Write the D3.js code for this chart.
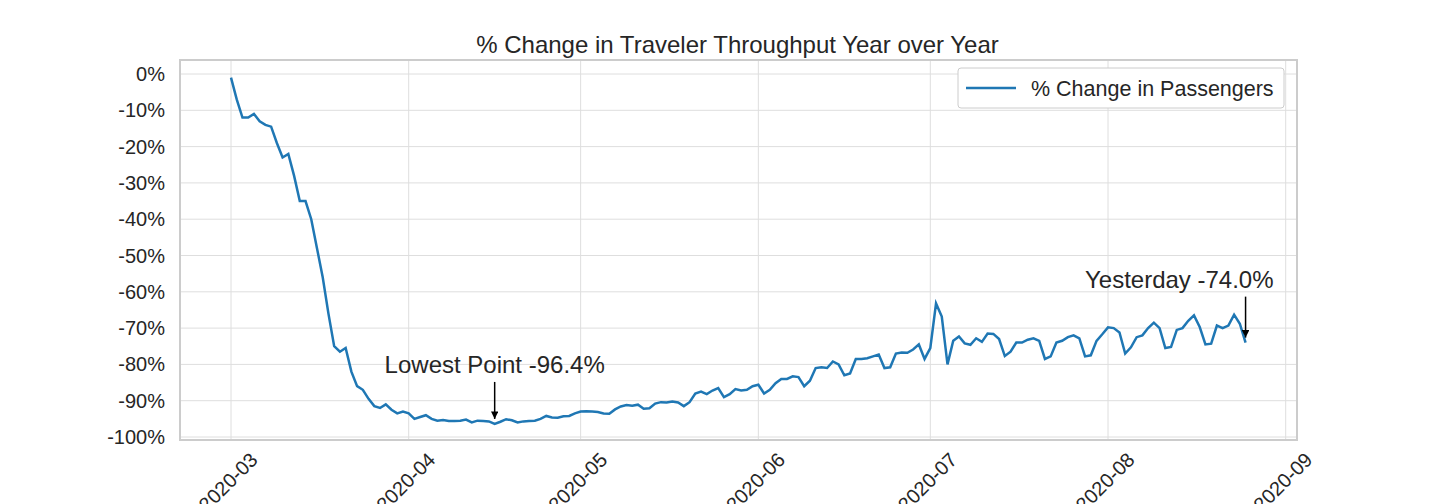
<!DOCTYPE html>
<html>
<head>
<meta charset="utf-8">
<script src="https://cdn.jsdelivr.net/npm/d3@7"></script>
<style>
  body { margin: 0; background: #fff; }
  text { font-family: "Liberation Sans", Arial, sans-serif; fill: #262626; }
</style>
</head>
<body>
<div id="chart-area"></div>
<script>
const startDate = "2020-03-01";
const pctChange = [
  // Mar
  -1, -7, -12, -12, -11, -13, -14, -14.5, -19, -23, -22, -28, -35, -35, -40, -48, -56, -66, -75, -76.5,
  -75.5, -82, -86, -87, -89.5, -91.5, -92, -91, -92.5, -93.5, -93,
  // Apr
  -93.5, -95, -94.5, -94, -95, -95.5, -95.3, -95.6, -95.6, -95.5, -95.2, -96, -95.5, -95.6, -95.7,
  -96.4, -95.8, -95.1, -95.4, -96, -95.7, -95.6, -95.5, -95, -94.2, -94.6, -94.7, -94.3, -94.2, -93.5,
  // May
  -93, -92.9, -93, -93.1, -93.5, -93.6, -92.4, -91.6, -91.2, -91.4, -91.1, -92.2, -92.1, -90.8, -90.4,
  -90.5, -90.2, -90.5, -91.5, -90.4, -88, -87.5, -88.2, -87.2, -86.5, -89, -88.2, -86.8, -87.2, -87, -86,
  // Jun
  -85.6, -88, -87, -85.2, -84, -84, -83.3, -83.5, -86, -84.5, -81, -80.8, -81, -79.2, -80,
  -83, -82.5, -78.5, -78.5, -78.3, -77.8, -77.3, -81, -80.8, -77, -76.7, -76.8, -75.9, -74.5, -78.5,
  // Jul
  -75.5, -63.2, -66.8, -80, -73.5, -72.3, -74.2, -74.6, -72.8, -73.8, -71.5, -71.6, -73, -77.7, -76.5,
  -74, -74, -73.2, -72.8, -73.5, -78.5, -77.8, -74, -73.5, -72.5, -72, -72.8, -77.8, -77.5, -73.5, -71.7,
  // Aug
  -69.8, -70, -71.2, -77, -75.3, -72.5, -72, -70, -68.5, -70, -75.5, -75.2, -70.5, -70, -68,
  -66.5, -69.7, -74.5, -74.3, -69.3, -70, -69.3, -66.3, -68.8, -74.0
];
const yTicks = [0, -10, -20, -30, -40, -50, -60, -70, -80, -90, -100];
const xTicks = ["2020-03-01", "2020-04-01", "2020-05-01", "2020-06-01", "2020-07-01", "2020-08-01", "2020-09-01"];

const parse = d3.timeParse("%Y-%m-%d");
const t0 = parse(startDate);
const data = pctChange.map((v, i) => ({ date: d3.timeDay.offset(t0, i), value: v }));

const W = 1440, H = 504;
const box = { left: 180, right: 1297, top: 60, bottom: 440 };

const svg = d3.select("#chart-area").append("svg").attr("width", W).attr("height", H);

const x = d3.scaleTime()
  .domain([parse("2020-03-01"), parse("2020-08-01")])
  .range([231, 1108]);
const y = d3.scaleLinear().domain([0, -100]).range([74, 437]);

// grid
svg.append("g").selectAll("line").data(yTicks).enter().append("line")
  .attr("x1", box.left).attr("x2", box.right)
  .attr("y1", d => y(d)).attr("y2", d => y(d))
  .attr("stroke", "#dedede").attr("stroke-width", 1);
svg.append("g").selectAll("line").data(xTicks).enter().append("line")
  .attr("x1", d => x(parse(d))).attr("x2", d => x(parse(d)))
  .attr("y1", box.top).attr("y2", box.bottom)
  .attr("stroke", "#dedede").attr("stroke-width", 1);

// y labels
svg.append("g").selectAll("text").data(yTicks).enter().append("text")
  .attr("x", box.left - 15).attr("y", d => y(d)).attr("dy", "0.35em")
  .attr("text-anchor", "end").attr("font-size", 20)
  .text(d => d + "%");

// x labels (rotated)
svg.append("g").selectAll("text").data(xTicks).enter().append("text")
  .attr("text-anchor", "middle").attr("font-size", 20)
  .attr("transform", d => `translate(${x(parse(d)) + 2},${box.bottom + 47}) rotate(-45)`)
  .text(d => d.slice(0, 7));

// line
svg.append("path").datum(data)
  .attr("fill", "none").attr("stroke", "#1f77b4").attr("stroke-width", 2.5)
  .attr("d", d3.line().x(d => x(d.date)).y(d => y(d.value)));

// frame
svg.append("rect")
  .attr("x", box.left).attr("y", box.top)
  .attr("width", box.right - box.left).attr("height", box.bottom - box.top)
  .attr("fill", "none").attr("stroke", "#cccccc").attr("stroke-width", 2);

// title
svg.append("text").attr("x", (box.left + box.right) / 2 - 1).attr("y", box.top - 7)
  .attr("text-anchor", "middle").attr("font-size", 24)
  .text("% Change in Traveler Throughput Year over Year");

// annotations
svg.append("defs").append("marker")
  .attr("id", "arr").attr("viewBox", "0 0 10 10").attr("refX", 10).attr("refY", 5)
  .attr("markerWidth", 5).attr("markerHeight", 5).attr("orient", "auto")
  .append("path").attr("d", "M0,0L10,5L0,10z").attr("fill", "#000");

const minPt = data.reduce((a, b) => (b.value < a.value ? b : a));
const lastPt = data[data.length - 1];
const notes = [
  { pt: minPt, label: `Lowest Point ${minPt.value.toFixed(1)}%`, dx: 0, anchor: "middle", gap: 36 },
  { pt: lastPt, label: `Yesterday ${lastPt.value.toFixed(1)}%`, dx: 28, anchor: "end", gap: 40 }
];
notes.forEach(n => {
  const px = x(n.pt.date), py = y(n.pt.value);
  svg.append("line").attr("x1", px).attr("x2", px)
    .attr("y1", py - n.gap - 6).attr("y2", py - 5)
    .attr("stroke", "#000").attr("stroke-width", 1.5).attr("marker-end", "url(#arr)");
  svg.append("text").attr("x", px + n.dx).attr("y", py - n.gap - 15)
    .attr("text-anchor", n.anchor).attr("font-size", 24).text(n.label);
});

// legend
const lg = svg.append("g");
lg.append("rect").attr("x", 958).attr("y", 68).attr("width", 326).attr("height", 40)
  .attr("rx", 3).attr("fill", "#fff").attr("stroke", "#cccccc");
lg.append("line").attr("x1", 966).attr("x2", 1016).attr("y1", 88).attr("y2", 88)
  .attr("stroke", "#1f77b4").attr("stroke-width", 2.5);
lg.append("text").attr("x", 1031).attr("y", 88).attr("dy", "0.35em")
  .attr("font-size", 21.5).text("% Change in Passengers");
</script>
</body>
</html>
